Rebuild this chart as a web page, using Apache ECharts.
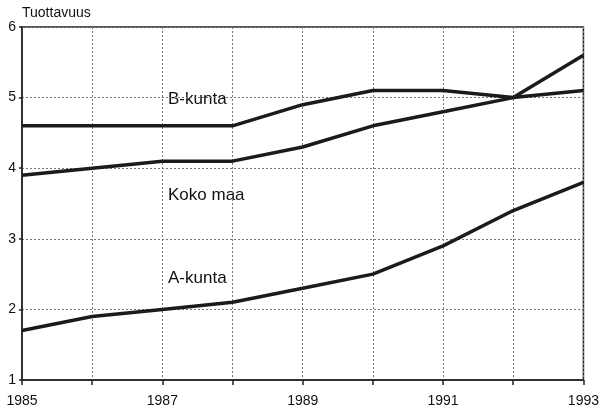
<!DOCTYPE html>
<html>
<head>
<meta charset="utf-8">
<script src="https://cdn.jsdelivr.net/npm/echarts@6/dist/echarts.min.js"></script>
<style>
  html, body { margin: 0; padding: 0; background: #fff; }
  #chart { width: 602px; height: 411px; }
</style>
</head>
<body>
<div id="chart"></div>
<script>
// vuodet ja sarjat
const years = [1985, 1986, 1987, 1988, 1989, 1990, 1991, 1992, 1993];
const bKunta = [4.6, 4.6, 4.6, 4.6, 4.9, 5.1, 5.1, 5.0, 5.1];
const kokoMaa = [3.9, 4.0, 4.1, 4.1, 4.3, 4.6, 4.8, 5.0, 5.6];
const aKunta = [1.7, 1.9, 2.0, 2.1, 2.3, 2.5, 2.9, 3.4, 3.8];
const yTicks = [1, 2, 3, 4, 5, 6];
const xLabels = [1985, 1987, 1989, 1991, 1993];

const font = 'Liberation Sans, Arial, sans-serif';

function line(name, values) {
  return {
    name: name,
    type: 'line',
    data: years.map((y, i) => [y, values[i]]),
    symbol: 'none',
    lineStyle: { color: '#1b1b1b', width: 3.5 },
    z: 5
  };
}

let chart = echarts.init(document.getElementById('chart'));
chart.setOption({
  backgroundColor: '#fff',
  animation: false,
  grid: {
    left: 22, right: 16, top: 27, bottom: 31,
    show: true, borderColor: '#222', borderWidth: 1.5
  },
  xAxis: {
    type: 'value',
    min: 1985, max: 1993, interval: 1,
    axisLine: { show: true, lineStyle: { color: '#222', width: 1.5 } },
    axisTick: { show: true, length: 5, inside: false, lineStyle: { color: '#222', width: 1.5 } },
    axisLabel: {
      color: '#111', fontSize: 14, fontFamily: font, margin: 14,
      formatter: v => xLabels.indexOf(v) >= 0 ? String(v) : ''
    },
    splitLine: { show: true, lineStyle: { color: '#777', type: [2, 2], width: 1 } }
  },
  yAxis: {
    type: 'value',
    min: yTicks[0], max: yTicks[yTicks.length - 1], interval: 1,
    axisLine: { show: true, lineStyle: { color: '#222', width: 1.5 } },
    axisTick: { show: true, length: 3, lineStyle: { color: '#222', width: 1.5 } },
    axisLabel: { color: '#111', fontSize: 14, fontFamily: font, margin: 6 },
    splitLine: { show: true, lineStyle: { color: '#777', type: [2, 2], width: 1 } }
  },
  graphic: [
    { type: 'text', left: 22, top: 6, style: { text: 'Tuottavuus', font: '14px ' + font, fill: '#111' } },
    { type: 'text', left: 168, top: 91, style: { text: 'B-kunta', font: '17px ' + font, fill: '#111' } },
    { type: 'text', left: 168, top: 187, style: { text: 'Koko maa', font: '17px ' + font, fill: '#111' } },
    { type: 'text', left: 168, top: 270, style: { text: 'A-kunta', font: '17px ' + font, fill: '#111' } }
  ],
  series: [
    line('B-kunta', bKunta),
    line('Koko maa', kokoMaa),
    line('A-kunta', aKunta)
  ]
});
window.addEventListener('resize', () => {
  chart.resize();
});
</script>
</body>
</html>
